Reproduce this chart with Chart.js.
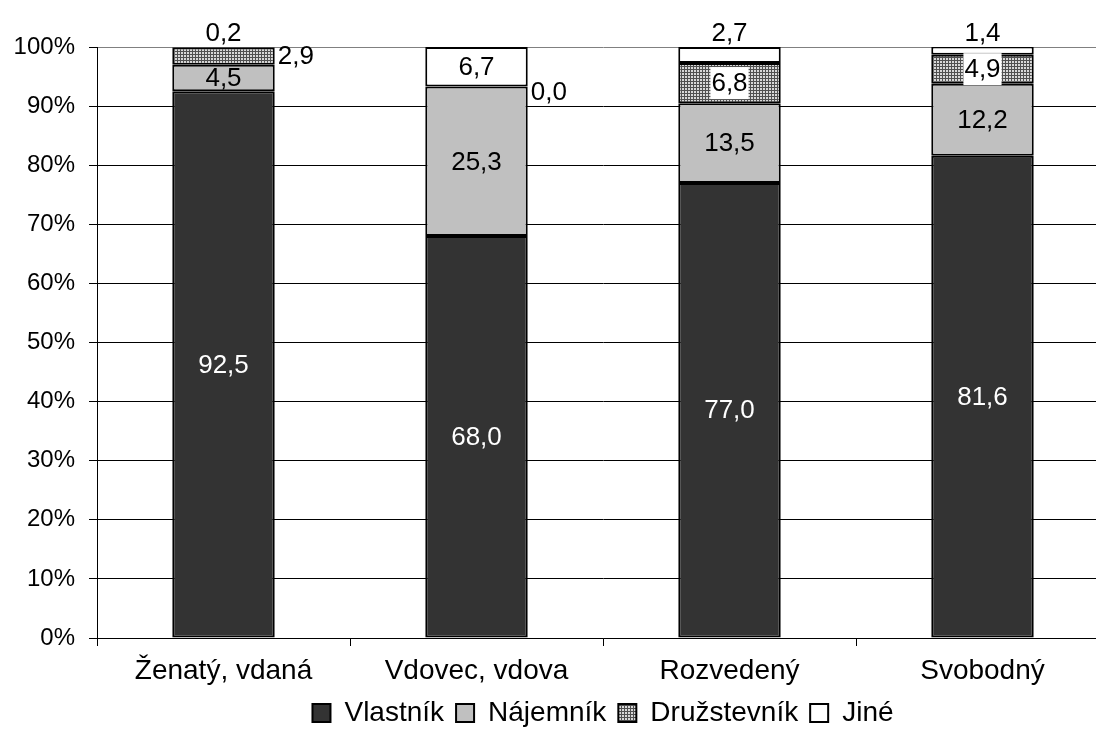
<!DOCTYPE html>
<html lang="cs">
<head>
<meta charset="utf-8">
<title>Struktura bydlení podle rodinného stavu</title>
<script src="https://cdn.jsdelivr.net/npm/chart.js@4.4.1/dist/chart.umd.min.js"></script>
<style>
  html, body { margin: 0; padding: 0; background: #ffffff; overflow: hidden; }
  #wrap { position: relative; width: 1112px; height: 742px; }
</style>
</head>
<body>
<div id="wrap"><canvas id="chart"></canvas></div>
<script>
// Rodinný stav (kategorie osy x)
const categories = ['Ženatý, vdaná', 'Vdovec, vdova', 'Rozvedený', 'Svobodný'];

// Podíly v procentech podle právního důvodu užívání bytu
const vlastnik    = [92.5, 68.0, 77.0, 81.6];
const najemnik    = [4.5, 25.3, 13.5, 12.2];
const druzstevnik = [2.9, 0.0, 6.8, 4.9];
const jine        = [0.2, 6.7, 2.7, 1.4];

const seriesNames = ['Vlastník', 'Nájemník', 'Družstevník', 'Jiné'];
const yTicks = [0, 10, 20, 30, 40, 50, 60, 70, 80, 90, 100];

const FONT = "'Liberation Sans', Arial, sans-serif";
const FS = 26;

// jemná mřížková výplň pro družstevníky
function gridPattern() {
  const c = document.createElement('canvas');
  c.width = 3; c.height = 3;
  const g = c.getContext('2d');
  g.fillStyle = '#d8d8d8';
  g.fillRect(0, 0, 3, 3);
  g.fillStyle = '#505050';
  g.fillRect(0, 0, 3, 1);
  g.fillRect(0, 0, 1, 3);
  return g.createPattern(c, 'repeat');
}

// umístění popisků: střed segmentu, vpravo od sloupce, nad sloupcem
const labelPlacement = [
  ['center', 'center', 'center', 'center'],
  ['center', 'center', 'center', 'center'],
  ['right', 'right', 'boxed', 'boxed'],
  ['above', 'center', 'above', 'above']
];
const labelColor = ['#ffffff', '#000000', '#000000', '#000000'];

const fmt = v => v.toFixed(1).replace('.', ',');

const valueLabels = {
  id: 'valueLabels',
  afterDatasetsDraw(chart) {
    const ctx = chart.ctx;
    ctx.save();
    ctx.font = FS + 'px ' + FONT;
    chart.data.datasets.forEach((ds, di) => {
      const meta = chart.getDatasetMeta(di);
      meta.data.forEach((bar, i) => {
        const v = ds.data[i];
        const txt = fmt(v);
        const top = Math.min(bar.y, bar.base);
        const bottom = Math.max(bar.y, bar.base);
        const cy = (top + bottom) / 2;
        const half = bar.width / 2;
        const mode = labelPlacement[di][i];
        ctx.fillStyle = labelColor[di];
        ctx.textBaseline = 'middle';
        if (mode === 'right') {
          ctx.textAlign = 'left';
          ctx.fillStyle = '#000000';
          ctx.fillText(txt, bar.x + half + 3, bottom - top < 4 ? cy + 6 : cy + 1);
        } else if (mode === 'above') {
          ctx.textAlign = 'center';
          ctx.fillStyle = '#000000';
          ctx.textBaseline = 'alphabetic';
          ctx.fillText(txt, bar.x, chart.chartArea.top - 6);
        } else if (mode === 'boxed') {
          const w = ctx.measureText(txt).width;
          ctx.fillStyle = '#ffffff';
          ctx.fillRect(bar.x - w / 2 - 1, cy - 16, w + 2, 32);
          ctx.fillStyle = '#000000';
          ctx.textAlign = 'center';
          ctx.fillText(txt, bar.x, cy + 1);
        } else {
          ctx.textAlign = 'center';
          ctx.fillText(txt, bar.x, cy + 1);
        }
      });
    });
    ctx.restore();
  }
};

const fills = ['#333333', '#c0c0c0', gridPattern(), '#ffffff'];
const seriesData = [vlastnik, najemnik, druzstevnik, jine];

const datasets = seriesNames.map((name, k) => ({
  label: name,
  data: seriesData[k],
  backgroundColor: fills[k],
  borderColor: '#000000',
  borderWidth: 2,
  borderSkipped: false,
  categoryPercentage: 1.0,
  barPercentage: 0.405
}));

Chart.defaults.font.family = FONT;
Chart.defaults.font.size = FS;
Chart.defaults.color = '#000000';

new Chart(document.getElementById('chart'), {
  type: 'bar',
  data: { labels: categories, datasets },
  plugins: [valueLabels],
  options: {
    responsive: true,
    maintainAspectRatio: false,
    animation: false,
    layout: { padding: { left: 0, right: 3, top: 47, bottom: 5 } },
    plugins: {
      legend: {
        position: 'bottom',
        fullSize: false,
        labels: {
          boxWidth: 18,
          boxHeight: 18,
          padding: 12,
          color: '#000000',
          font: { size: 28, family: FONT }
        }
      },
      tooltip: { enabled: false }
    },
    scales: {
      x: {
        stacked: true,
        grid: {
          display: true,
          drawOnChartArea: false,
          offset: true,
          tickLength: 8,
          color: '#000000',
          lineWidth: 1
        },
        border: { display: true, color: '#000000', width: 1 },
        ticks: { padding: 8, color: '#000000', maxRotation: 0, font: { size: 28 } },
        afterFit(scale) { scale.height = 49; }
      },
      y: {
        stacked: true,
        min: 0,
        max: 100,
        afterBuildTicks(scale) { scale.ticks = yTicks.map(v => ({ value: v })); },
        ticks: {
          padding: 14,
          color: '#000000',
          font: { size: 24 },
          callback: v => v + '%'
        },
        grid: {
          color: ctx => (ctx.tick && ctx.tick.value === 100) ? '#808080' : '#000000',
          tickColor: '#000000',
          tickLength: 8,
          lineWidth: 1
        },
        border: { display: true, color: '#000000', width: 1 },
        afterFit(scale) { scale.width = 97; }
      }
    }
  }
});
</script>
</body>
</html>
